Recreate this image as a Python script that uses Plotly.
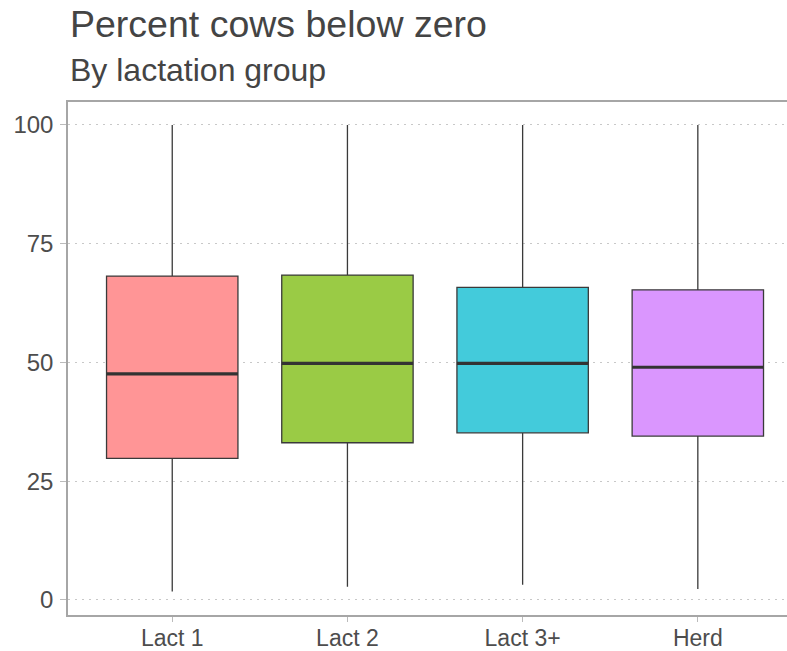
import plotly.graph_objects as go

categories = ["Lact 1", "Lact 2", "Lact 3+", "Herd"]
positions = [0, 1, 2, 3]
q1 = [29.8, 33.1, 35.2, 34.5]
median = [47.6, 49.8, 49.8, 49.0]
q3 = [68.2, 68.4, 65.8, 65.3]
lower = [1.8, 2.8, 3.2, 2.3]
upper = [100, 100, 100, 100]
colors = ["#FF9596", "#9ACB45", "#43CBDB", "#DA96FE"]
yticks = [0, 25, 50, 75, 100]

box_w = 0.75
fig = go.Figure()
for i in range(len(categories)):
    fig.add_trace(go.Box(
        x=[positions[i]], q1=[q1[i]], median=[median[i]], q3=[q3[i]],
        lowerfence=[lower[i]], upperfence=[upper[i]],
        width=box_w, whiskerwidth=0, fillcolor=colors[i],
        line=dict(color="#3a3a3a", width=1.3), boxpoints=False,
        showlegend=False, hoverinfo="skip",
    ))

mx, my = [], []
for i in range(len(categories)):
    mx += [positions[i] - box_w / 2, positions[i] + box_w / 2, None]
    my += [median[i], median[i], None]
fig.add_trace(go.Scatter(x=mx, y=my, mode="lines",
                         line=dict(color="#333333", width=3.2),
                         showlegend=False, hoverinfo="skip"))

fig.update_layout(
    width=787, height=651,
    margin=dict(l=68, r=0, t=102, b=36, autoexpand=False),
    paper_bgcolor="white", plot_bgcolor="white",
    font=dict(family="Liberation Sans, Arial, sans-serif", color="#4D4D4D"),
    annotations=[
        dict(text="Percent cows below zero", xref="paper", yref="paper",
             x=0, y=1.152, xanchor="left", yanchor="middle", showarrow=False,
             font=dict(size=37.5, color="#444444")),
        dict(text="By lactation group", xref="paper", yref="paper",
             x=0, y=1.062, xanchor="left", yanchor="middle", showarrow=False,
             font=dict(size=32, color="#444444")),
    ],
)
fig.update_xaxes(
    range=[-0.595, 3.509], tickvals=positions, ticktext=categories,
    showgrid=False, zeroline=False, automargin=False,
    showline=True, linecolor="#A6A6A6", linewidth=1.5, mirror=True,
    ticks="outside", ticklen=5, tickcolor="#BBBBBB", tickwidth=1,
    ticklabelstandoff=-3,
    tickfont=dict(size=23, color="#4D4D4D"),
)
fig.update_yaxes(
    range=[-3.16, 104.84], tickvals=yticks, automargin=False,
    showgrid=True, gridcolor="#C8C8C8", griddash="2px,5px", gridwidth=1,
    zeroline=False,
    showline=True, linecolor="#A6A6A6", linewidth=1.5,
    ticks="outside", ticklen=6, tickcolor="#BBBBBB", tickwidth=1,
    ticklabelstandoff=2,
    tickfont=dict(size=24, color="#4D4D4D"),
)
fig.write_html("out.html", config={"displayModeBar": False},
               post_script="document.body.style.margin='0';document.body.style.padding='0';")
